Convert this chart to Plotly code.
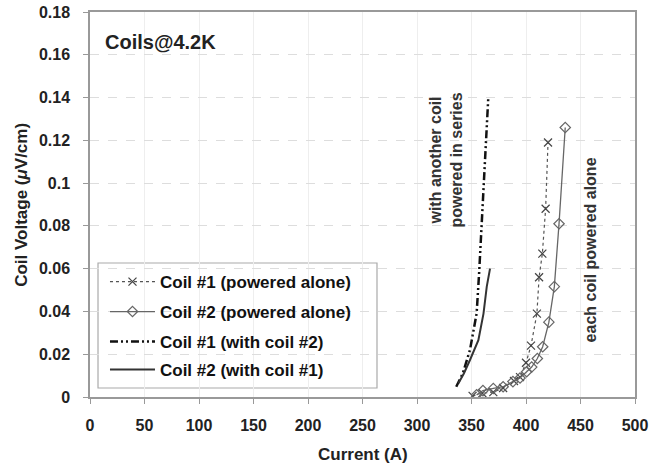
import plotly.graph_objects as go

# Data (Current in A, Voltage in uV/cm)
c1_alone_I = [351, 360, 370, 379, 389, 394.5, 400, 404.6, 410, 412, 415, 418, 420.2]
c1_alone_V = [0.0005, 0.0018, 0.0023, 0.0042, 0.0075, 0.0093, 0.016, 0.024, 0.039, 0.056, 0.067, 0.088, 0.119]

c2_alone_I = [354.7, 360.5, 370, 379, 388, 394.5, 400.6, 405.2, 410.4, 415.3, 421, 426, 430.3, 436]
c2_alone_V = [0.001, 0.003, 0.004, 0.0048, 0.0072, 0.0089, 0.0118, 0.014, 0.018, 0.0235, 0.035, 0.0516, 0.081, 0.126]

c1_series_I = [336, 342, 348.6, 354.7, 357, 359.4, 361.5, 364, 365.4]
c1_series_V = [0.0048, 0.011, 0.022, 0.039, 0.058, 0.080, 0.100, 0.122, 0.140]

c2_series_I = [338, 343, 348.6, 352.5, 356.3, 361, 364, 367]
c2_series_V = [0.0064, 0.011, 0.0173, 0.022, 0.0266, 0.039, 0.0516, 0.060]

x_ticks = [0, 50, 100, 150, 200, 250, 300, 350, 400, 450, 500]
y_ticks = [0, 0.02, 0.04, 0.06, 0.08, 0.1, 0.12, 0.14, 0.16, 0.18]
y_tick_text = ["0", "0.02", "0.04", "0.06", "0.08", "0.1", "0.12", "0.14", "0.16", "0.18"]

FONT = "Liberation Sans, Arial, sans-serif"
FS = 16
LFS = 17

fig = go.Figure()
fig.add_trace(go.Scatter(
    x=c1_alone_I, y=c1_alone_V, mode="lines+markers", name="<b>Coil #1 (powered alone)</b>",
    line=dict(color="#555555", width=1.2, dash="dot"),
    marker=dict(symbol="x-thin", size=8, line=dict(color="#444444", width=1.2)),
    legend="legend",
))
fig.add_trace(go.Scatter(
    x=c2_alone_I, y=c2_alone_V, mode="lines+markers", name="<b>Coil #2 (powered alone)</b>",
    line=dict(color="#666666", width=1.3),
    marker=dict(symbol="diamond-open", size=8, color="#666666", line=dict(width=1.2)),
    legend="legend2",
))
fig.add_trace(go.Scatter(
    x=c1_series_I, y=c1_series_V, mode="lines", name="<b>Coil #1 (with coil #2)</b>",
    line=dict(color="#111111", width=2.5, dash="8px,3px,2px,3px,2px,3px"),
    legend="legend3",
))
fig.add_trace(go.Scatter(
    x=c2_series_I, y=c2_series_V, mode="lines", name="<b>Coil #2 (with coil #1)</b>",
    line=dict(color="#333333", width=2),
    legend="legend4",
))

fig.add_annotation(x=0.024, y=0.922, xref="paper", yref="paper", text="<b>Coils@4.2K</b>",
                   showarrow=False, xanchor="left", yanchor="middle",
                   font=dict(family=FONT, size=20, color="#222222"))
fig.add_annotation(x=326.6, y=0.111, text="<b>with another coil<br>powered in series</b>",
                   showarrow=False, textangle=-90, align="center",
                   font=dict(family=FONT, size=FS, color="#333333"))
fig.add_annotation(x=458.7, y=0.069, text="<b>each coil powered alone</b>",
                   showarrow=False, textangle=-90,
                   font=dict(family=FONT, size=FS, color="#333333"))
# axis titles
fig.add_annotation(x=0.5, y=-0.15, xref="paper", yref="paper", text="<b>Current (A)</b>",
                   showarrow=False, xanchor="center", yanchor="middle",
                   font=dict(family=FONT, size=17, color="#222222"))
fig.add_annotation(x=-0.126, y=0.5, xref="paper", yref="paper", text="<b>Coil Voltage (<i>μ</i>V/cm)</b>",
                   showarrow=False, textangle=-90, xanchor="center", yanchor="middle",
                   font=dict(family=FONT, size=17, color="#222222"))

# legend frame
fig.add_shape(type="rect", xref="paper", yref="paper", x0=0.0147, x1=0.5266, y0=0.0234, y1=0.348,
              line=dict(color="#aaaaaa", width=1.2), fillcolor="white", layer="below")

leg_common = dict(xanchor="left", yanchor="middle", bgcolor="rgba(0,0,0,0)", borderwidth=0,
                  font=dict(family=FONT, size=LFS, color="#111111"), itemwidth=45)
leg_x = 0.0275
fig.update_layout(
    width=649, height=470,
    margin=dict(l=90, r=14, t=12, b=73, autoexpand=False),
    paper_bgcolor="white", plot_bgcolor="white",
    font=dict(family=FONT, size=FS, color="#222222"),
    showlegend=True,
    legend=dict(x=leg_x, y=0.2987, **leg_common),
    legend2=dict(x=leg_x, y=0.2208, **leg_common),
    legend3=dict(x=leg_x, y=0.1429, **leg_common),
    legend4=dict(x=leg_x, y=0.0701, **leg_common),
    xaxis=dict(range=[0, 500], tickvals=x_ticks, ticktext=[f"<b>{v}</b>" for v in x_ticks],
               showgrid=True, gridcolor="#eeeeee", gridwidth=1,
               showline=True, linecolor="#999999", linewidth=1.5, mirror=True,
               ticks="outside", ticklen=5, tickcolor="#999999", zeroline=False,
               ticklabelstandoff=8, automargin=False,
               tickfont=dict(size=FS)),
    yaxis=dict(range=[0, 0.18], tickvals=y_ticks, ticktext=[f"<b>{t}</b>" for t in y_tick_text],
               showgrid=True, gridcolor="#dddddd", gridwidth=1, griddash="dash",
               showline=True, linecolor="#999999", linewidth=1.5, mirror=True,
               ticks="outside", ticklen=5, tickcolor="#999999", zeroline=False,
               ticklabelstandoff=10, automargin=False,
               tickfont=dict(size=FS)),
)

fig.write_html("out.html", post_script="document.body.style.margin='0';",
               config={"displayModeBar": False})
